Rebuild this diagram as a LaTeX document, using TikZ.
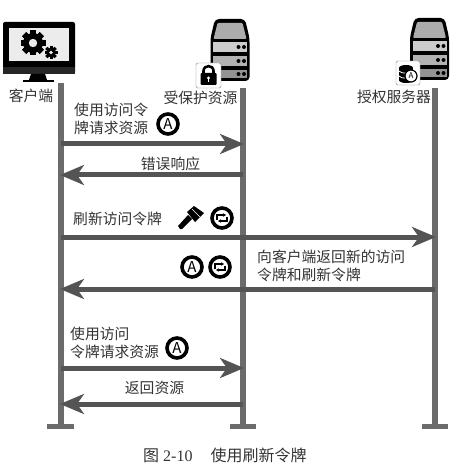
\documentclass[tikz,border=0pt]{standalone}
\usepackage{fontspec}
\setmainfont{Noto Sans CJK SC}
\newfontfamily\capfont{Liberation Serif}
\usetikzlibrary{arrows.meta}
\definecolor{lifeC}{gray}{0.42}
\definecolor{arrC}{gray}{0.33}
\definecolor{txtC}{gray}{0.2}
\tikzset{
  x=1pt,y=-1pt,
  lifeline/.style={draw=lifeC,line width=6pt},
  footbar/.style={draw=lifeC,line width=5pt},
  msg/.style={draw=arrC,line width=5pt,-{Stealth[length=24pt,width=20pt,inset=7pt]},shorten >=-1pt},
  lbl/.style={inner sep=0pt,text=txtC,font=\fontsize{14.8}{18}\selectfont,align=left},
  tokring/.style={circle,draw=black,line width=3.6pt,fill=white,minimum size=20pt,inner sep=0pt},
  servertop/.pic={
    \fill[black,rounded corners=4pt] (-19.5,-12)--(-15,-31)--(15,-31)--(19.5,-12)--(19.5,31)--(-19.5,31)--cycle;
    \fill[gray!65,rounded corners=1pt] (-16.5,-11)--(-12.5,-27)--(12.5,-27)--(16.5,-11)--cycle;
    \fill[gray!40] (-17,-8) rectangle (17,2);
    \fill[gray!60] (-17,6) rectangle (17,16);
    \fill[gray!85] (-17,20) rectangle (17,28);
    \foreach \yy in {-3,11,24}{\fill[black] (8.5,\yy) circle (2pt) (14,\yy) circle (2pt);}
  },
}
\newcommand{\ringA}[1]{\node[tokring] at (#1) {\fontsize{15}{15}\selectfont A};}
\begin{document}
\begin{tikzpicture}
\useasboundingbox (0,0) rectangle (457,470);
% client monitor
\fill[black,rounded corners=2pt] (3,22) rectangle (75,74);
\fill[gray!15] (9,28) rectangle (69,61);
\fill[gray!30!black] (3,67) rectangle (75,74);
\fill[black] (31,74)--(45,74)--(47,80)--(29,80)--cycle;
\fill[black] (23,80) rectangle (54,82);
\foreach \a in {0,45,...,315}{\fill[black,rotate around={\a:(33,43)}] (30,30.5) rectangle (36,55.5);}
\fill[black] (33,43) circle (10);
\fill[gray!15] (33,43) circle (4.2);
\foreach \a in {0,45,...,315}{\fill[black,rotate around={\a:(51,52.5)}] (49.5,46) rectangle (52.5,59);}
\fill[black] (51,52.5) circle (4.8);
\fill[gray!15] (51,52.5) circle (1.9);
% servers
\pic at (230,50) {servertop};
\pic at (429.5,49) {servertop};
% lock badge
\draw[gray,fill=white,rounded corners=1.5pt] (196,63) rectangle (221,88);
\draw[black,line width=2.6pt] (203.5,74) -- (203.5,71) .. controls (203.5,64.5) and (213.5,64.5) .. (213.5,71) -- (213.5,74);
\fill[black,rounded corners=1pt] (200.5,73) rectangle (216.5,85);
\fill[white] (208.5,78) circle (1.7);
\fill[white] (207.8,78) rectangle (209.2,82);
% auth badge
\draw[gray,fill=white,rounded corners=1.5pt] (396,61) rectangle (420,85);
\fill[black] (399,68) rectangle (413,80);
\fill[black] (406,68) ellipse (7 and 3);
\fill[black] (406,80) ellipse (7 and 3);
\draw[white,line width=0.8pt] (399,71) .. controls (401,74) and (411,74) .. (413,71);
\draw[white,line width=0.8pt] (399,76) .. controls (401,79) and (411,79) .. (413,76);
\node[circle,draw=black,fill=white,line width=1.2pt,minimum size=12pt,inner sep=0pt,font=\fontsize{8}{8}\selectfont] (authA) at (411,76) {A};
% lifelines
\coordinate (ct) at (61,83); \coordinate (cb) at (61,426);
\coordinate (st) at (243,88); \coordinate (sb) at (243,426);
\coordinate (at) at (435,88); \coordinate (ab) at (435,426);
\draw[lifeline] (ct) -- (cb);
\draw[lifeline] (st) -- (sb);
\draw[lifeline] (at) -- (ab);
\coordinate (cbl) at (47,426); \coordinate (cbr) at (74,426);
\coordinate (sbl) at (230,426); \coordinate (sbr) at (256,426);
\coordinate (abl) at (422,426); \coordinate (abr) at (448,426);
\draw[footbar] (cbl) -- (cbr);
\draw[footbar] (sbl) -- (sbr);
\draw[footbar] (abl) -- (abr);
% labels
\node[lbl] (client) at (31,96) {客户端};
\node[lbl] (protected) at (200.5,98) {受保护资源};
\node[lbl] (authsrv) at (394,97) {授权服务器};
% messages
\coordinate (c1) at (61,144); \coordinate (s1) at (243,144);
\coordinate (s2) at (243,175); \coordinate (c2) at (61,175);
\coordinate (c3) at (61,237); \coordinate (a3) at (435,237);
\coordinate (a4) at (435,289); \coordinate (c4) at (61,289);
\coordinate (c5) at (61,368); \coordinate (s5) at (243,368);
\coordinate (s6) at (243,404); \coordinate (c6) at (61,404);
\draw[msg] (c1) -- (s1);
\draw[msg] (s2) -- (c2);
\draw[msg] (c3) -- (a3);
\draw[msg] (a4) -- (c4);
\draw[msg] (c5) -- (s5);
\draw[msg] (s6) -- (c6);
\node[lbl,anchor=west] (m1) at (74,119) {使用访问令\\牌请求资源};
\node[lbl] (m2) at (170.5,164) {错误响应};
\node[lbl,anchor=west] (m3) at (73,219) {刷新访问令牌};
\node[lbl,anchor=west] (m4) at (257,266) {向客户端返回新的访问\\令牌和刷新令牌};
\node[lbl,anchor=west] (m5) at (70,343) {使用访问\\令牌请求资源};
\node[lbl] (m6) at (154.5,388) {返回资源};
% token icons
\ringA{168,124}
\ringA{192,267}
\ringA{177,348}
\foreach \cx/\cy in {222/218,220/267}{
  \node[tokring] at (\cx,\cy) {};
  \draw[black,line width=1.3pt,-{Stealth[length=3pt,width=3.5pt]}] (\cx-5,\cy+1.5) -- (\cx-5,\cy-3) -- (\cx+4,\cy-3);
  \draw[black,line width=1.3pt,-{Stealth[length=3pt,width=3.5pt]}] (\cx+5,\cy-1.5) -- (\cx+5,\cy+3) -- (\cx-4,\cy+3);
}
% brush
\fill[black] (180,229) -- (178,226) -- (188,215) -- (192,219) -- (182,229) -- cycle;
\fill[black] (187,212) -- (194,206) -- (204,213) -- (195,222) -- cycle;
\draw[white,line width=0.7pt] (192,209) -- (200,217);
% caption
\node[inner sep=0pt,anchor=west,text=txtC,font=\fontsize{16}{18}\selectfont] (cap) at (143,455) {图\hspace{4pt}{\capfont 2-10}\hspace{18pt}使用刷新令牌};
\end{tikzpicture}
\end{document}
